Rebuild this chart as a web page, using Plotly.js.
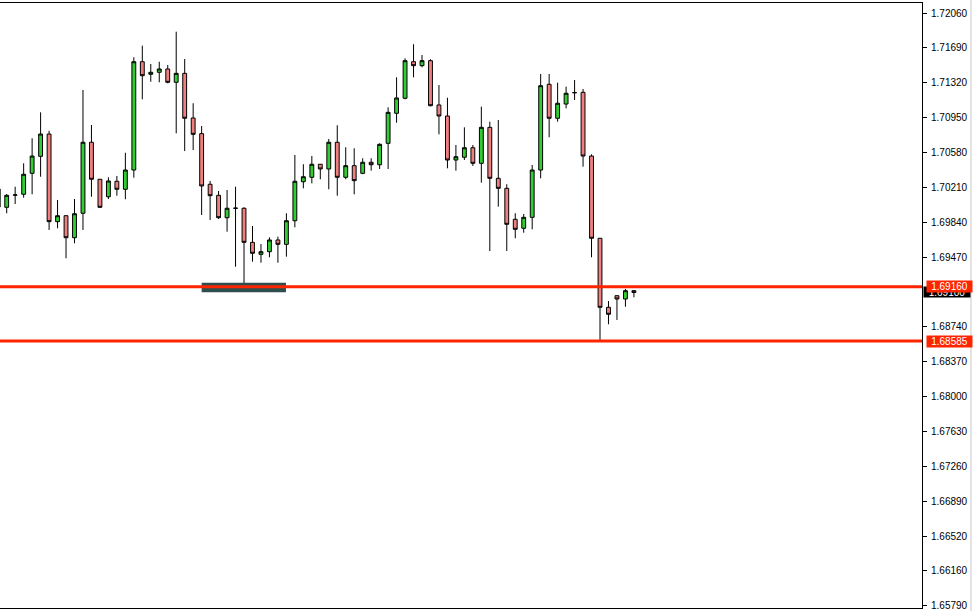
<!DOCTYPE html>
<html>
<head>
<meta charset="utf-8">
<script src="https://cdn.plot.ly/plotly-3.0.1.min.js"></script>
<style>
html,body{margin:0;padding:0;background:#fff;}
#chart{width:975px;height:611px;}
</style>
</head>
<body>
<div id="chart"></div>
<script>
// Bar index (0 is the partially visible bar at the left edge)
const bars = [0,1,2,3,4,5,6,7,8,9,10,11,12,13,14,15,16,17,18,19,20,21,22,23,24,25,26,27,28,29,30,31,32,33,34,35,36,37,38,39,40,41,42,43,44,45,46,47,48,49,50,51,52,53,54,55,56,57,58,59,60,61,62,63,64,65,66,67,68,69,70,71,72,73,74,75];

const opens = [1.70005,1.70002,1.70131,1.70140,1.70362,1.70542,1.70778,1.69850,1.69913,1.69680,
1.69939,1.70691,1.70299,1.70114,1.70278,1.70193,1.70397,1.71544,1.71411,1.71432,
1.71467,1.71326,1.71421,1.70948,1.70782,1.70246,1.70129,1.69892,1.69991,1.69992,
1.69631,1.69504,1.69532,1.69656,1.69610,1.69860,1.70273,1.70320,1.70458,1.70408,
1.70691,1.70320,1.70443,1.70362,1.70479,1.70453,1.70680,1.70998,1.71157,1.71544,
1.71502,1.71555,1.71086,1.70969,1.70503,1.70532,1.70633,1.70468,1.70849,1.70309,
1.70203,1.69875,1.69780,1.69896,1.70397,1.71305,1.70945,1.71096,1.71215,1.71220,
1.70545,1.69674,1.68943,1.69066,1.69031,1.69119];

const highs = [1.70228,1.70143,1.70220,1.70468,1.70733,1.71008,1.70813,1.70079,1.69915,1.70090,
1.71245,1.70874,1.70302,1.70320,1.70334,1.70580,1.71591,1.71714,1.71520,1.71544,
1.71509,1.71862,1.71573,1.71104,1.70863,1.70281,1.70175,1.70185,1.70220,1.70002,
1.69804,1.69613,1.69684,1.69691,1.69939,1.70556,1.70458,1.70545,1.70460,1.70726,
1.70871,1.70638,1.70627,1.70521,1.70521,1.70680,1.71061,1.71379,1.71580,1.71729,
1.71615,1.71570,1.71297,1.71163,1.70662,1.70849,1.70662,1.71068,1.70909,1.70927,
1.70246,1.69939,1.69931,1.70450,1.71414,1.71414,1.71322,1.71280,1.71350,1.71255,
1.70563,1.69676,1.69010,1.69068,1.69137,1.69121];

const lows = [1.69995,1.69939,1.70037,1.70104,1.70140,1.70326,1.69762,1.69780,1.69462,1.69621,
1.69762,1.70114,1.69995,1.70090,1.70125,1.70087,1.70316,1.71146,1.71332,1.71326,
1.71315,1.70786,1.70598,1.70609,1.69921,1.69868,1.69878,1.69744,1.69373,1.69170,
1.69426,1.69415,1.69473,1.69415,1.69479,1.69790,1.70203,1.70256,1.70299,1.70193,
1.70125,1.70299,1.70140,1.70352,1.70390,1.70408,1.70408,1.70898,1.71146,1.71379,
1.71485,1.71072,1.70775,1.70415,1.70390,1.70503,1.70440,1.70263,1.69539,1.70009,
1.69539,1.69674,1.69733,1.69769,1.70309,1.70744,1.70909,1.71051,1.71139,1.70432,
1.69473,1.68585,1.68763,1.68809,1.68949,1.69049];

const closes = [1.70196,1.70129,1.70133,1.70352,1.70545,1.70778,1.69850,1.69913,1.69680,1.69934,
1.70691,1.70299,1.70002,1.70281,1.70193,1.70397,1.71544,1.71396,1.71432,1.71467,
1.71326,1.71421,1.70945,1.70775,1.70228,1.70125,1.69892,1.69992,1.69993,1.69631,
1.69515,1.69532,1.69656,1.69610,1.69860,1.70278,1.70326,1.70458,1.70408,1.70691,
1.70320,1.70443,1.70284,1.70479,1.70453,1.70669,1.71008,1.71160,1.71555,1.71502,
1.71555,1.71078,1.70969,1.70503,1.70538,1.70633,1.70468,1.70849,1.70309,1.70203,
1.69822,1.69769,1.69896,1.70397,1.71290,1.70945,1.71104,1.71210,1.71217,1.70545,
1.69674,1.68943,1.68869,1.69031,1.69119,1.69100];

// Right price scale tick values
const tickValues = [1.72060,1.71690,1.71320,1.70950,1.70580,1.70210,1.69840,1.69470,
1.68740,1.68370,1.68000,1.67630,1.67260,1.66890,1.66520,1.66160,1.65790];
const tickLabels = tickValues.map(v => v.toFixed(5));

// Horizontal levels and current price
const resistanceLevel = 1.69160;
const supportLevel = 1.68585;
const currentPrice = 1.69100;
// Zone rectangle (bar indices and price bounds)
const zoneBars = [24, 33.95];
const zonePrices = [1.69102, 1.69204];

const trace = {
  type: 'candlestick',
  x: bars,
  open: opens, high: highs, low: lows, close: closes,
  increasing: {line: {color: '#000000', width: 1}, fillcolor: '#32cd32'},
  decreasing: {line: {color: '#000000', width: 1}, fillcolor: '#f08080'},
  whiskerwidth: 0,
  hoverinfo: 'skip',
  showlegend: false
};

const layout = {
  width: 975, height: 611,
  margin: {l: 0, r: 53, t: 3, b: 3, pad: 0},
  paper_bgcolor: '#ffffff', plot_bgcolor: '#ffffff',
  boxgap: 0.35,
  showlegend: false,
  xaxis: {
    range: [0.21, 108.99],
    showgrid: false, zeroline: false, showticklabels: false, ticks: '',
    showline: true, linecolor: '#000000', linewidth: 1, mirror: true,
    rangeslider: {visible: false},
    fixedrange: true
  },
  yaxis: {
    side: 'right',
    range: [1.657582, 1.721659],
    tickvals: tickValues, ticktext: tickLabels,
    ticks: 'outside', ticklen: 4, tickcolor: '#000000', tickwidth: 1,
    ticklabelstandoff: 2,
    tickfont: {family: 'Liberation Sans, Arial, sans-serif', size: 10, color: '#000000'},
    showgrid: false, zeroline: false,
    showline: true, linecolor: '#000000', linewidth: 1, mirror: true,
    fixedrange: true
  },
  shapes: [
    {type: 'rect', xref: 'x', yref: 'y', x0: zoneBars[0], x1: zoneBars[1], y0: zonePrices[0], y1: zonePrices[1],
     fillcolor: '#2f4f4f', line: {width: 0}, layer: 'above'},
    {type: 'line', xref: 'paper', yref: 'y', x0: 0, x1: 1, y0: resistanceLevel, y1: resistanceLevel,
     line: {color: '#ff2400', width: 3}, layer: 'above'},
    {type: 'line', xref: 'paper', yref: 'y', x0: 0, x1: 1, y0: supportLevel, y1: supportLevel,
     line: {color: '#ff2400', width: 3}, layer: 'above'},
    {type: 'line', xref: 'paper', yref: 'paper', x0: 1.0531, x1: 1.0531, y0: -0.01, y1: 1.01,
     line: {color: '#c8c8c8', width: 1}, layer: 'above'}
  ],
  annotations: [
    {xref: 'paper', yref: 'y', x: 1, xanchor: 'left', xshift: 1, y: currentPrice, yanchor: 'middle',
     text: currentPrice.toFixed(5), showarrow: false, bgcolor: '#000000', borderpad: 0,
     width: 46, height: 10, font: {family: 'Liberation Sans, Arial, sans-serif', size: 10, color: '#ffffff'}},
    {xref: 'paper', yref: 'y', x: 1, xanchor: 'left', xshift: 4, y: resistanceLevel, yanchor: 'middle',
     text: resistanceLevel.toFixed(5), showarrow: false, bgcolor: '#ff2400', borderpad: 0,
     width: 45, height: 11, font: {family: 'Liberation Sans, Arial, sans-serif', size: 10, color: '#ffffff'}},
    {xref: 'paper', yref: 'y', x: 1, xanchor: 'left', xshift: 4, y: supportLevel, yanchor: 'middle',
     text: supportLevel.toFixed(5), showarrow: false, bgcolor: '#ff2400', borderpad: 0,
     width: 45, height: 11, font: {family: 'Liberation Sans, Arial, sans-serif', size: 10, color: '#ffffff'}}
  ]
};

Plotly.newPlot('chart', [trace], layout, {displayModeBar: false, staticPlot: true});
</script>
</body>
</html>
